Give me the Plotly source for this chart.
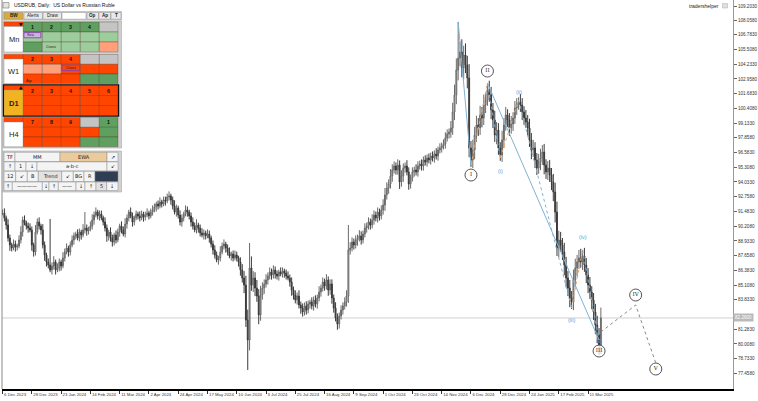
import plotly.graph_objects as go

# ---------------- data ----------------
symbol_title = "USDRUB, Daily:  US Dollar vs Russian Ruble"
brand = "tradershelper"

date_labels = ["6 Dec 2023", "28 Dec 2023", "23 Jan 2024", "14 Feb 2024", "11 Mar 2024",
               "2 Apr 2024", "24 Apr 2024", "17 May 2024", "10 Jun 2024", "3 Jul 2024",
               "25 Jul 2024", "16 Aug 2024", "9 Sep 2024", "1 Oct 2024", "23 Oct 2024",
               "14 Nov 2024", "6 Dec 2024", "28 Dec 2024", "24 Jan 2025", "17 Feb 2025",
               "11 Mar 2025"]
date_label_bars = [0, 16, 32, 48, 64, 80, 96, 112, 128, 144, 160, 176, 192, 208, 224,
                   240, 256, 272, 288, 304, 320]

price_ticks = [109.203, 108.058, 106.783, 105.508, 104.233, 102.958, 101.683, 100.408,
               99.133, 97.858, 96.583, 95.308, 94.033, 92.758, 91.483, 90.208, 88.933,
               87.658, 86.383, 85.108, 83.833, 81.283, 80.008, 78.733, 77.458]

closes = [
    91.35, 90.92, 90.31, 89.18, 88.58, 88.32, 88.66, 88.40, 88.49, 89.01,
    89.70, 90.74, 90.48, 90.22, 90.05, 89.88, 88.58, 87.97, 89.70, 90.57,
    90.22, 89.88, 88.58, 87.71, 87.11, 86.85, 86.42, 86.76, 87.11, 86.42,
    86.59, 87.11, 86.76, 87.45, 87.97, 88.32, 87.97, 88.58, 89.01, 89.36,
    89.53, 89.18, 89.70, 89.44, 89.88, 90.05, 89.79, 89.96, 90.22, 90.74,
    91.17, 91.43, 91.09, 91.26, 90.92, 90.57, 90.05, 89.36, 89.70, 89.18,
    88.84, 89.44, 89.01, 89.70, 90.22, 89.88, 89.53, 90.40, 90.92, 91.43,
    91.09, 90.57, 90.92, 91.26, 91.09, 90.92, 91.26, 91.00, 91.17, 91.35,
    91.09, 91.43, 91.61, 91.87, 92.13, 91.95, 92.30, 92.13, 92.47, 92.39,
    92.73, 92.82, 92.47, 91.95, 91.43, 91.78, 91.17, 90.57, 90.92, 91.26,
    91.61, 91.43, 91.09, 90.57, 90.22, 89.88, 90.31, 90.05, 89.62, 89.44,
    89.62, 89.36, 89.53, 89.18, 88.66, 88.15, 87.71, 87.28, 87.45, 87.97,
    88.49, 88.66, 88.32, 87.97, 87.63, 87.80, 87.45, 87.71, 87.45, 87.11,
    86.42, 85.72, 85.11, 82.08, 80.35, 86.59, 85.11, 85.72, 84.85, 84.16,
    82.52, 84.25, 84.85, 85.20, 85.55, 85.89, 86.24, 85.98, 86.42, 86.07,
    85.89, 86.24, 86.07, 86.33, 86.15, 85.89, 85.72, 85.37, 84.68, 84.25,
    83.82, 84.16, 83.38, 83.12, 82.78, 83.30, 82.95, 83.47, 83.64, 83.30,
    83.82, 83.47, 83.99, 84.51, 84.85, 85.37, 85.03, 85.55, 84.68, 85.20,
    83.99, 83.12, 82.26, 81.74, 82.43, 82.95, 83.30, 83.64, 84.16, 88.15,
    88.32, 88.84, 88.58, 89.01, 89.18, 89.36, 89.01, 89.53, 90.05, 90.22,
    90.57, 90.31, 90.74, 91.17, 90.92, 91.43, 91.09, 91.61, 92.04, 92.91,
    93.51, 93.86, 94.55, 95.07, 95.42, 95.07, 95.50, 94.03, 94.55, 95.24,
    95.42, 94.90, 93.86, 94.38, 94.90, 95.07, 94.90, 95.42, 95.59, 95.42,
    95.94, 95.76, 96.11, 95.94, 96.28, 96.11, 96.46, 96.28, 96.80, 96.98,
    97.15, 97.32, 97.84, 98.19, 98.36, 98.71, 100.09, 101.57, 103.73, 104.76,
    105.29, 103.90, 105.03, 104.16, 103.04, 96.98, 95.94, 96.80, 98.10, 98.97,
    98.71, 99.83, 99.57, 100.70, 101.13, 102.00, 101.57, 100.27, 99.40, 98.10,
    98.53, 96.98, 96.37, 97.67, 98.97, 99.83, 99.40, 98.71, 99.05, 99.57,
    100.44, 100.79, 100.96, 100.70, 100.09, 99.57, 99.23, 98.71, 97.67, 96.80,
    96.98, 95.94, 95.24, 95.76, 96.11, 96.63, 95.50, 94.90, 95.24, 94.64,
    94.03, 93.17, 91.43, 88.32, 89.01, 88.58, 87.97, 86.85, 85.72, 84.85,
    83.99, 83.64, 85.55, 86.59, 87.11, 87.45, 87.11, 87.63, 86.85, 85.98,
    85.11, 84.51, 83.82, 82.78, 81.65, 80.79, 79.92, 82.26,
]

# upper / lower shadow lengths read per bar (roubles)
wick_up = [
    0.3, 0.4, 0.2, 0.5, 0.3, 0.2, 0.4, 0.3, 0.2, 0.4,
    0.5, 0.3, 0.4, 0.2, 0.3, 0.4, 0.3, 0.2, 0.6, 0.3,
    0.4, 0.2, 0.5, 0.3, 0.2, 0.3, 0.4, 0.3, 0.5, 0.2,
    0.4, 0.3, 0.2, 0.5, 0.3, 0.4, 0.2, 0.3, 0.4, 0.3,
    0.2, 0.4, 0.3, 0.2, 0.5, 0.3, 0.3, 0.2, 0.4, 0.5,
    0.3, 0.4, 0.2, 0.3, 0.3, 0.2, 0.4, 0.3, 0.2, 0.4,
    0.3, 0.2, 0.4, 0.3, 0.2, 0.4, 0.3, 0.5, 0.3, 0.2,
    0.4, 0.3, 0.2, 0.3, 0.2, 0.4, 0.3, 0.2, 0.3, 0.4,
    0.2, 0.3, 0.4, 0.3, 0.2, 0.3, 0.4, 0.2, 0.3, 0.3,
    0.3, 0.4, 0.2, 0.3, 0.5, 0.3, 0.2, 0.4, 0.3, 0.2,
    0.4, 0.3, 0.2, 0.3, 0.4, 0.3, 0.5, 0.2, 0.3, 0.4,
    0.3, 0.2, 0.4, 0.3, 0.2, 0.3, 0.4, 0.3, 0.2, 0.5,
    0.3, 0.4, 0.2, 0.3, 0.4, 0.2, 0.3, 0.4, 0.3, 0.2,
    0.4, 0.5, 0.6, 0.8, 0.9, 0.4, 1.0, 0.6, 0.5, 0.7,
    0.6, 0.8, 0.5, 0.4, 0.5, 0.3, 0.4, 0.3, 0.4, 0.3,
    0.3, 0.2, 0.4, 0.3, 0.2, 0.3, 0.4, 0.3, 0.4, 0.3,
    0.4, 0.3, 0.5, 0.3, 0.4, 0.3, 0.4, 0.3, 0.2, 0.4,
    0.3, 0.4, 0.3, 0.5, 0.3, 0.4, 0.3, 0.5, 0.3, 0.4,
    0.4, 0.3, 0.5, 0.4, 0.3, 0.4, 0.3, 0.4, 0.5, 0.3,
    0.5, 0.4, 0.3, 0.4, 0.3, 0.5, 0.4, 0.3, 0.4, 0.3,
    0.4, 0.3, 0.5, 0.4, 0.3, 0.4, 0.3, 0.4, 0.5, 0.6,
    0.5, 0.4, 0.6, 0.5, 0.4, 0.3, 0.5, 0.4, 0.5, 0.4,
    0.3, 0.5, 0.4, 0.3, 0.4, 0.3, 0.5, 0.4, 0.3, 0.4,
    0.3, 0.4, 0.3, 0.4, 0.3, 0.4, 0.3, 0.5, 0.3, 0.4,
    0.3, 0.4, 0.5, 0.4, 0.3, 0.6, 0.8, 0.9, 1.0, 0.6,
    0.9, 1.1, 0.8, 1.0, 0.8, 1.2, 0.6, 0.9, 0.7, 0.8,
    0.6, 0.8, 0.7, 0.9, 0.6, 0.4, 0.8, 0.7, 0.6, 0.8,
    0.7, 0.6, 0.5, 0.8, 0.6, 0.7, 0.5, 0.6, 0.7, 0.5,
    0.6, 0.5, 0.4, 0.7, 0.6, 0.5, 0.7, 0.6, 0.8, 0.6,
    0.7, 0.5, 0.6, 0.7, 0.8, 0.6, 0.7, 0.5, 0.6, 0.7,
    0.6, 0.7, 0.8, 0.9, 0.8, 0.7, 0.6, 0.8, 0.7, 0.6,
    0.7, 0.6, 0.9, 0.8, 0.6, 0.7, 0.8, 0.5, 0.7, 0.6,
    0.6, 0.7, 0.5, 0.6, 0.7, 0.8, 0.6, 0.9,
]
wick_dn = [
    0.2, 0.3, 0.4, 0.3, 0.5, 0.3, 0.2, 0.4, 0.3, 0.2,
    0.3, 0.4, 0.2, 0.3, 0.4, 0.2, 0.5, 0.4, 0.3, 0.2,
    0.3, 0.4, 0.3, 0.5, 0.4, 0.3, 0.2, 0.4, 0.3, 0.4,
    0.2, 0.3, 0.4, 0.2, 0.3, 0.2, 0.4, 0.3, 0.2, 0.4,
    0.3, 0.2, 0.3, 0.4, 0.2, 0.3, 0.4, 0.3, 0.2, 0.3,
    0.4, 0.2, 0.3, 0.4, 0.2, 0.3, 0.3, 0.5, 0.4, 0.3,
    0.4, 0.3, 0.3, 0.2, 0.4, 0.3, 0.2, 0.3, 0.4, 0.3,
    0.2, 0.4, 0.3, 0.2, 0.3, 0.3, 0.2, 0.4, 0.3, 0.2,
    0.3, 0.2, 0.3, 0.2, 0.4, 0.3, 0.2, 0.3, 0.2, 0.4,
    0.2, 0.3, 0.4, 0.3, 0.2, 0.4, 0.3, 0.3, 0.4, 0.3,
    0.2, 0.4, 0.3, 0.4, 0.3, 0.2, 0.3, 0.4, 0.3, 0.2,
    0.4, 0.3, 0.2, 0.4, 0.3, 0.4, 0.3, 0.2, 0.4, 0.3,
    0.2, 0.3, 0.4, 0.3, 0.2, 0.4, 0.3, 0.2, 0.3, 0.4,
    0.5, 0.4, 0.7, 0.6, 0.5, 0.9, 0.5, 0.6, 0.7, 0.5,
    0.8, 0.5, 0.4, 0.5, 0.3, 0.4, 0.3, 0.4, 0.3, 0.4,
    0.3, 0.4, 0.2, 0.3, 0.4, 0.3, 0.2, 0.4, 0.5, 0.4,
    0.3, 0.4, 0.3, 0.5, 0.4, 0.3, 0.4, 0.3, 0.4, 0.3,
    0.4, 0.3, 0.4, 0.3, 0.4, 0.3, 0.4, 0.3, 0.5, 0.4,
    0.5, 0.4, 0.3, 0.5, 0.4, 0.3, 0.4, 0.3, 0.4, 0.6,
    0.4, 0.3, 0.4, 0.3, 0.5, 0.3, 0.4, 0.3, 0.3, 0.4,
    0.3, 0.4, 0.3, 0.4, 0.3, 0.4, 0.4, 0.3, 0.4, 0.5,
    0.4, 0.5, 0.4, 0.5, 0.3, 0.4, 0.4, 0.6, 0.4, 0.5,
    0.4, 0.3, 0.5, 0.4, 0.3, 0.4, 0.3, 0.4, 0.3, 0.4,
    0.4, 0.3, 0.4, 0.3, 0.4, 0.3, 0.4, 0.3, 0.4, 0.3,
    0.4, 0.3, 0.4, 0.3, 0.4, 0.5, 0.6, 0.7, 0.8, 0.9,
    0.7, 0.8, 1.0, 0.7, 0.9, 0.8, 0.6, 0.7, 0.8, 0.6,
    0.7, 0.6, 0.8, 0.6, 0.7, 0.5, 0.6, 0.8, 0.7, 0.6,
    0.8, 0.6, 0.5, 0.6, 0.7, 0.5, 0.6, 0.7, 0.5, 0.6,
    0.5, 0.6, 0.5, 0.6, 0.7, 0.6, 0.5, 0.7, 0.6, 0.8,
    0.6, 0.7, 0.6, 0.5, 0.7, 0.6, 0.8, 0.6, 0.7, 0.6,
    0.7, 0.8, 0.9, 0.7, 0.8, 0.6, 0.7, 0.9, 0.8, 0.7,
    0.8, 0.6, 0.7, 0.6, 0.7, 0.6, 0.5, 0.7, 0.6, 0.7,
    0.7, 0.6, 0.8, 0.7, 0.8, 0.7, 0.6, 0.8,
]

spike_high_bars = [26, 45, 135, 189, 249, 265, 282, 303, 317]
spike_high_vals = [90.83, 91.43, 88.75, 90.31, 107.89, 102.60, 101.13, 90.14, 88.15]
spike_low_bars = [133, 134, 183, 256, 272, 311, 326]
spike_low_vals = [81.83, 77.76, 81.39, 95.50, 96.11, 83.12, 79.05]

# Elliott wave marks
primary_bars = [249, 256, 265, 326]
primary_vals = [107.89, 95.50, 102.60, 80.35]
primary_lbls = ["", "I", "II", "III"]
minor_bars = [265, 272, 282, 311, 317, 326]
minor_vals = [102.60, 96.11, 101.13, 83.12, 88.15, 80.35]
minor_lbls = ["", "(i)", "(ii)", "(iii)", "(iv)", "(v)"]
proj_bars = [327, 346, 357]
proj_vals = [81.05, 83.38, 78.36]
proj_lbls = ["", "IV", "V"]

# ---------------- geometry ----------------
W, H = 758, 401
PL, PR, PT, PB = 2, 733, 0, 389
Y0, Y1 = 76.11, 109.79
X0, X1 = -0.3, 399.2
PPU = (PB - PT) / (Y1 - Y0)

FONT = "Liberation Sans, Arial, DejaVu Sans, sans-serif"
BLUE = "#7fb3d2"
ORANGE = "#f0a868"
GREY = "#8a8a8a"

opens = [closes[0]] + closes[:-1]
highs = [max(o, c) + u for o, c, u in zip(opens, closes, wick_up)]
lows = [min(o, c) - d for o, c, d in zip(opens, closes, wick_dn)]
for b, v in zip(spike_high_bars, spike_high_vals):
    highs[b] = max(highs[b], v)
for b, v in zip(spike_low_bars, spike_low_vals):
    lows[b] = min(lows[b], v)
bars = list(range(len(closes)))

fig = go.Figure()
fig.add_trace(go.Candlestick(
    x=bars, open=opens, high=highs, low=lows, close=closes,
    increasing=dict(line=dict(color="#6a6a6a", width=1), fillcolor="#bdbdbd"),
    decreasing=dict(line=dict(color="#3a3a3a", width=1), fillcolor="#3a3a3a"),
    whiskerwidth=0, showlegend=False, hoverinfo="skip"))

def seg(xs, ys, color, dash):
    fig.add_trace(go.Scatter(x=xs, y=ys, mode="lines", hoverinfo="skip", showlegend=False,
                             line=dict(color=color, width=1, dash=dash)))

seg(primary_bars[0:2], primary_vals[0:2], BLUE, "solid")
seg(primary_bars[1:3], primary_vals[1:3], ORANGE, "dot")
seg(primary_bars[2:4], primary_vals[2:4], BLUE, "solid")
for k in range(len(minor_bars) - 1):
    seg(minor_bars[k:k + 2], minor_vals[k:k + 2], BLUE if k % 2 == 0 else ORANGE, "dot")
seg(proj_bars, proj_vals, GREY, "dot")

# circled roman labels (pixel offsets converted to price units)
circ_x, circ_y, circ_t = [], [], []
prim_off = [0, -10, 12, -11]
for b, v, t, o in zip(primary_bars, primary_vals, primary_lbls, prim_off):
    if t:
        circ_x.append(b); circ_y.append(v + o / PPU); circ_t.append(t)
proj_off = [0, 10, -6]
for b, v, t, o in zip(proj_bars, proj_vals, proj_lbls, proj_off):
    if t:
        circ_x.append(b); circ_y.append(v + o / PPU); circ_t.append(t)
fig.add_trace(go.Scatter(
    x=circ_x, y=circ_y, text=circ_t, mode="markers+text", textposition="middle center",
    marker=dict(symbol="circle", size=12, color="rgba(255,255,255,0.75)",
                line=dict(color="#555555", width=1)),
    textfont=dict(size=5.5, color="#333333", family="DejaVu Serif, serif"),
    hoverinfo="skip", showlegend=False))

annotations = []
minor_off = [0, -13, 8, -12, 13, -1]
for b, v, t, o in zip(minor_bars, minor_vals, minor_lbls, minor_off):
    if t:
        annotations.append(dict(x=b, y=v, xref="x", yref="y", text=t, showarrow=False,
                                yshift=o, font=dict(size=5.5, color="#5b9bd5", family=FONT)))

shapes = []
shapes.append(dict(type="line", xref="paper", x0=0, x1=1, yref="y", y0=closes[-1], y1=closes[-1],
                   line=dict(color="#d0d0d0", width=1), layer="below"))
annotations.append(dict(xref="paper", x=1.0, xanchor="left", yref="y", y=closes[-1],
                        text=f"{closes[-1]:.4f}", showarrow=False, bgcolor="#b9b9b9",
                        borderpad=1, font=dict(size=4.6, color="white", family=FONT)))

# ---------------- panel helpers (pixel -> paper) ----------------
def X(p):
    return (p - PL) / (PR - PL)

def Yp(p):
    return 1 - (p - PT) / (PB - PT)

def rect(x0, y0, x1, y1, fill, line=None, lw=0.5):
    shapes.append(dict(type="rect", xref="paper", yref="paper", x0=X(x0), x1=X(x1),
                       y0=Yp(y1), y1=Yp(y0), fillcolor=fill,
                       line=dict(color=line if line else "rgba(0,0,0,0)", width=lw if line else 0),
                       layer="above"))

def txt(x, y, s, size=5, color="#111111", bold=False, anchor="center", family=FONT):
    if bold:
        s = f"<b>{s}</b>"
    annotations.append(dict(xref="paper", yref="paper", x=X(x), y=Yp(y), text=s, showarrow=False,
                            xanchor=anchor, yanchor="middle",
                            font=dict(size=size, color=color, family=family)))

# title + brand
rect(3, 2.5, 9, 8, "#e4e4e4", "#777777", 0.6)
txt(11.5, 5.5, symbol_title, size=5, anchor="left")
txt(721, 6, brand, size=5, anchor="right", color="#222222")
rect(722.5, 3.5, 727.5, 8, "#e0e0e0", "#aaaaaa", 0.5)

# button row
rect(3, 11.5, 121.5, 20, "#d6d6d6", "#a0a0a0")
buttons = [(4, 23, "BW", "#dcab30", True), (24, 42.5, "Alerts", "#e9e9e9", False),
           (43, 61.5, "Draw", "#e9e9e9", False), (62, 86, "", "#ffffff", False),
           (87, 98.5, "Op", "#e9e9e9", True), (99, 110.5, "Ap", "#e9e9e9", True),
           (111, 121, "T", "#e9e9e9", True)]
for x0, x1, s, c, bd in buttons:
    rect(x0, 12.5, x1, 19.2, c, "#8e8e8e", 0.5)
    if s:
        txt((x0 + x1) / 2, 16, s, size=4.6, bold=bd, color="#222222")

# signal grid
OR, G, LG, SA, GR = "#ff4500", "#5f9f5f", "#9dcc9d", "#ffa07a", "#c4c4c4"
rect(3, 21, 121.5, 148, "#cfcfcf", "#9a9a9a")
cols = [23.3, 42.3, 61.3, 80.3, 99.3, 118.0]
blocks = [
    ("Mn", [22, 32, 42, 52], "#ffffff", "▼",
     [[G, G, G, G, GR], [LG, LG, LG, LG, LG], [G, LG, LG, LG, SA]],
     [["1", "2", "3", "4", ""], ["", "", "", "", ""], ["", "", "", "", ""]]),
    ("W1", [54.5, 64.3, 74, 83.5], "#ffffff", "",
     [[OR, OR, OR, GR, GR], [SA, SA, OR, OR, OR], [OR, OR, OR, G, G]],
     [["2", "3", "4", "", ""], ["", "", "", "", ""], ["", "", "", "", ""]]),
    ("D1", [85.5, 95.5, 105.5, 115.5], "#f2b322", "▲",
     [[OR] * 5, [OR] * 5, [OR] * 5],
     [["2", "3", "4", "5", "6"], ["", "", "", "", ""], ["", "", "", "", ""]]),
    ("H4", [117.5, 127.3, 137, 146.7], "#ffffff", "",
     [[OR, OR, OR, GR, G], [OR, OR, OR, OR, G], [OR, OR, OR, G, G]],
     [["7", "8", "9", "", "1"], ["", "", "", "", ""], ["", "", "", "", ""]]),
]
for name, ry, lbg, tri, colors, texts in blocks:
    rect(4, ry[0], cols[0], ry[0] + 4.5, OR, "#b03a10", 0.4)
    rect(4, ry[0] + 4.5, cols[0], ry[3], lbg, "#9a9a9a", 0.5)
    txt((4 + cols[0]) / 2, (ry[0] + 4.5 + ry[3]) / 2 + 0.5, name, size=7.5,
        bold=(name == "D1"), color="#222222")
    if tri:
        txt(20.5, ry[0] + 2.4, tri, size=4.5, color="#000000", family="DejaVu Sans")
    for r in range(3):
        for c in range(5):
            rect(cols[c], ry[r], cols[c + 1], ry[r + 1], colors[r][c], "rgba(70,35,20,0.55)", 0.5)
            if texts[r][c]:
                txt((cols[c] + cols[c + 1]) / 2, (ry[r] + ry[r + 1]) / 2, texts[r][c],
                    size=5.2, bold=True, color="#111111")
    if name == "D1":
        rect(3.4, ry[0] - 0.6, 118.6, ry[3] + 0.6, "rgba(0,0,0,0)", "#111111", 1.2)

# special cell marks
rect(cols[0] + 0.6, 32.6, cols[1] - 1.5, 37.8, "#c9b6df", "#8e3fb0", 0.9)
txt(cols[0] + 1.5, 35.2, "Sea", size=3.8, anchor="left", color="#222222")
txt(cols[1] + 1.5, 47, "Cross", size=3.8, anchor="left", color="#222222")
rect(cols[2] + 0.6, 65.2, cols[3] - 0.6, 70.5, "rgba(0,0,0,0)", "#8e3fb0", 0.9)
txt((cols[2] + cols[3]) / 2, 67.9, "Cross", size=3.8, color="#222222")
txt(cols[0] + 1, 80.5, "Agr", size=3.8, anchor="left", color="#222222")

# tool panel
rect(3, 151, 121.5, 192, "#d2d2d2", "#9a9a9a")
tool_rows = [
    (152.3, 161.5, [(4, 15, "TF", "#f4f4f4"), (15, 60, "MM", "#f4f4f4"),
                    (60, 107, "EWA", "#ebcb9c"), (107, 118, "↗", "#f4f4f4")]),
    (161.9, 170.9, [(4, 15, "↑", "#f4f4f4"), (15, 26, "1", "#f4f4f4"), (26, 37, "↓", "#f4f4f4"),
                    (37, 107, "a-b-c", "#f4f4f4"), (107, 118, "↙", "#f4f4f4")]),
    (171.3, 181.6, [(4, 15.7, "12", "#f4f4f4"), (15.7, 27.3, "↙", "#f4f4f4"),
                    (27.3, 38.3, "B", "#f4f4f4"), (38.3, 61.7, "Trend", "#e2e2e2"),
                    (61.7, 73.3, "↙", "#f4f4f4"), (73.3, 84, "BG", "#f4f4f4"),
                    (84, 95, "R", "#f4f4f4"), (95, 118, "", "#2f3e53")]),
    (182.0, 190.5, [(4, 12.3, "↑", "#f4f4f4"), (12.3, 42.3, "————", "#f4f4f4"),
                    (42.3, 49, "↓", "#f4f4f4"), (49, 58.3, "↑", "#f4f4f4"),
                    (58.3, 76, "——", "#f4f4f4"), (76, 85, "↓", "#f4f4f4"),
                    (85, 96, "↑", "#f4f4f4"), (96, 106.7, "5", "#e2e2e2"),
                    (106.7, 118, "↓", "#f4f4f4")]),
]
for y0, y1, cells in tool_rows:
    for x0, x1, s, c in cells:
        rect(x0, y0, x1, y1, c, "#8e8e8e", 0.5)
        if s:
            txt((x0 + x1) / 2, (y0 + y1) / 2, s, size=5, color="#222222",
                family="DejaVu Sans, sans-serif")

# chart frame left edge
shapes.append(dict(type="line", xref="paper", yref="paper", x0=0, x1=0, y0=0, y1=1,
                   line=dict(color="#8a8a8a", width=1), layer="below"))

fig.update_layout(
    template="none",
    width=W, height=H,
    margin=dict(l=PL, r=W - PR, t=PT, b=H - PB, pad=0),
    paper_bgcolor="white", plot_bgcolor="white",
    showlegend=False,
    font=dict(family=FONT, size=5, color="#333333"),
    xaxis=dict(range=[X0, X1], rangeslider=dict(visible=False), showgrid=False, zeroline=False,
               showline=True, linecolor="#000000", linewidth=2, ticks="outside", ticklen=3,
               tickcolor="#333333", tickwidth=1, tickvals=date_label_bars, ticktext=date_labels,
               ticklabelposition="outside right", tickangle=0, automargin=False,
               tickfont=dict(family=FONT, size=4.3, color="#333333")),
    yaxis=dict(range=[Y0, Y1], side="right", showgrid=False, zeroline=False,
               showline=True, linecolor="#9a9a9a", linewidth=1, ticks="outside", ticklen=3,
               tickcolor="#666666", tickwidth=1, tickvals=price_ticks,
               ticktext=[f"{v:.4f}" for v in price_ticks], automargin=False,
               tickfont=dict(family=FONT, size=4.6, color="#333333")),
    shapes=shapes,
    annotations=annotations,
)

fig.write_html("out.html", config={"displayModeBar": False},
               post_script="document.body.style.margin='0px';document.body.style.overflow='hidden';")
